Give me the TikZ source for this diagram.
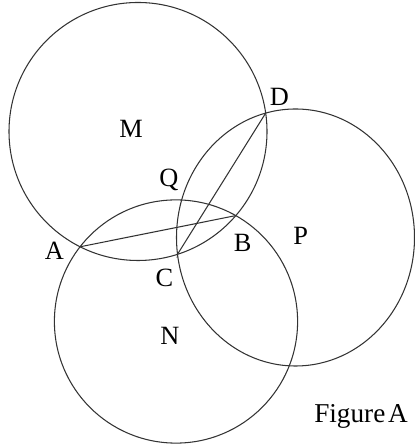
\documentclass[tikz,border=0pt]{standalone}
\usepackage{fontspec}
\setmainfont{Liberation Serif}
\begin{document}
\begin{tikzpicture}[x=0.02cm,y=0.02cm,
  geo/.style={draw=black!80,line width=0.6pt},
  lbl/.style={inner sep=0pt,font=\fontsize{15}{18}\selectfont}]
\useasboundingbox (0,0) rectangle (414,445);
% circles
\draw[geo] (138,313.5) circle [radius=129];
\draw[geo] (176,123.5) circle [radius=121.6];
\draw[geo] (295.5,207.5) ellipse [x radius=119, y radius=128.5];
% points
\coordinate (A) at (80.0,198.2);
\coordinate (B) at (235.8,229.4);
\coordinate (C) at (177.5,190.7);
\coordinate (D) at (265.7,331.9);
\coordinate (Ct) at (177.0,187.0);
% chords
\draw[geo] (A) -- (B);
\draw[geo] (C) -- (D);
\draw[geo,line width=0.4pt] (C) -- (Ct);
% labels
\node[lbl] (lM) at (131,315.7) {M};
\node[lbl] (lD) at (279.3,348.3) {D};
\node[lbl] (lQ) at (169,265) {Q};
\node[lbl] (lA) at (54.3,194.3) {A};
\node[lbl] (lB) at (242.7,202.3) {B};
\node[lbl] (lP) at (300.7,209) {P};
\node[lbl] (lC) at (164.3,167.3) {C};
\node[lbl] (lN) at (170,109) {N};
\node[lbl,font=\fontsize{15.5}{18}\selectfont] (lF) at (361,28.5) {Figure\hspace{0.1em}A};
\end{tikzpicture}
\end{document}
